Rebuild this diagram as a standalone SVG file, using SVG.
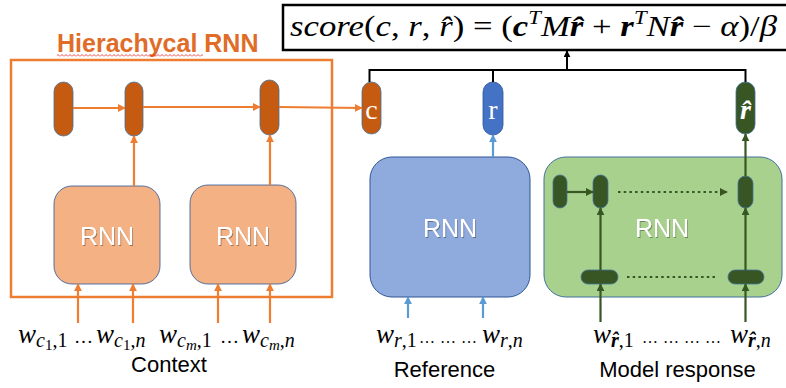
<svg xmlns="http://www.w3.org/2000/svg" width="786" height="388" viewBox="0 0 786 388">
<defs>
<style>
.frame{fill:none;stroke:#ED7D31;stroke-width:2.5}
.pill-o{fill:#C55A11;stroke:#41719C;stroke-width:0.8}
.pill-b{fill:#4472C4;stroke:#2F5597;stroke-width:0.8}
.pill-g{fill:#375623;stroke:#41719C;stroke-width:0.8}
.box-o{fill:#F4B183;stroke:#2F5597;stroke-width:0.8}
.box-b{fill:#8FAADC;stroke:#2F5597;stroke-width:1}
.box-g{fill:#A9D18E;stroke:#41719C;stroke-width:1}
.ao{stroke:#ED7D31;stroke-width:2.2;fill:none;marker-end:url(#ah-o)}
.ab{stroke:#5B9BD5;stroke-width:2.2;fill:none;marker-end:url(#ah-b)}
.ag{stroke:#375623;stroke-width:2.2;fill:none;marker-end:url(#ah-g)}
.agn{stroke:#375623;stroke-width:2.2;fill:none}
.dot{stroke-dasharray:2.5 3.2}
.ak{stroke:#000;stroke-width:2;fill:none}
.rnn{font-family:"Liberation Sans","Open Sans",sans-serif;font-size:25px;fill:#fff;text-anchor:middle;filter:url(#sh)}
.lbl{font-family:"Liberation Sans","Open Sans",sans-serif;font-size:22px;fill:#000;text-anchor:middle}
.m{font-family:"Liberation Serif","DejaVu Serif",serif;font-style:italic;font-size:27px;fill:#000}
.s{font-size:20px}
.ss{font-size:15px}
.up{font-style:normal}
.bi{font-weight:bold}
.el{font-family:"Liberation Serif","DejaVu Serif",serif;font-size:19px;fill:#000}
.el2{font-family:"Liberation Serif","DejaVu Serif",serif;font-size:16px;fill:#000}
.pl{font-family:"Liberation Serif","DejaVu Serif",serif;font-size:28px;fill:#fff;text-anchor:middle}
</style>
<marker id="ah-o" viewBox="0 0 10 10" refX="9" refY="5" markerWidth="8" markerHeight="8" markerUnits="userSpaceOnUse" orient="auto"><path d="M0,0 L10,5 L0,10 z" fill="#ED7D31"/></marker>
<marker id="ah-b" viewBox="0 0 10 10" refX="9" refY="5" markerWidth="8" markerHeight="8" markerUnits="userSpaceOnUse" orient="auto"><path d="M0,0 L10,5 L0,10 z" fill="#5B9BD5"/></marker>
<marker id="ah-g" viewBox="0 0 10 10" refX="9" refY="5" markerWidth="8" markerHeight="8" markerUnits="userSpaceOnUse" orient="auto"><path d="M0,0 L10,5 L0,10 z" fill="#375623"/></marker>
<marker id="ah-k" viewBox="0 0 10 10" refX="9" refY="5" markerWidth="7" markerHeight="7" markerUnits="userSpaceOnUse" orient="auto"><path d="M0,0 L10,5 L0,10 z" fill="#000"/></marker>
<filter id="sh" x="-20%" y="-20%" width="140%" height="140%"><feDropShadow dx="1" dy="1" stdDeviation="0.7" flood-color="#000" flood-opacity="0.35"/></filter>
<pattern id="wavy" width="4" height="3" patternUnits="userSpaceOnUse"><path d="M0,2.5 L2,0.5 L4,2.5" stroke="#E02020" fill="none" stroke-width="0.8"/></pattern>
</defs>
<rect width="786" height="388" fill="#fff"/>

<g id="hierarchical-frame">
<rect class="frame" x="11" y="60" width="321" height="237"/>
<text x="57" y="52" font-family="Liberation Sans, Arial, sans-serif" font-weight="bold" font-size="25" fill="#E06C28">Hierachycal RNN</text>
<rect x="57" y="54" width="146" height="3" fill="url(#wavy)"/>
</g>

<g id="formula">
<rect x="283" y="5" width="506" height="45" fill="#fff" stroke="#000" stroke-width="2.5"/>
<text x="290" y="36" font-family="Liberation Serif, DejaVu Serif, serif" font-size="29" textLength="487" lengthAdjust="spacingAndGlyphs"><tspan font-style="italic">score</tspan>(<tspan font-style="italic">c</tspan>, <tspan font-style="italic">r</tspan>, <tspan font-style="italic">r̂</tspan>) = (<tspan font-style="italic" font-weight="bold">c</tspan><tspan font-style="italic" font-size="19" dy="-12">T</tspan><tspan font-style="italic" dy="12">M</tspan><tspan font-style="italic" font-weight="bold">r̂</tspan> + <tspan font-style="italic" font-weight="bold">r</tspan><tspan font-style="italic" font-size="19" dy="-12">T</tspan><tspan font-style="italic" dy="12">N</tspan><tspan font-style="italic" font-weight="bold">r̂</tspan> − <tspan font-style="italic">α</tspan>)/<tspan font-style="italic">β</tspan></text>
</g>

<g id="ctx-pill-1"><rect class="pill-o" x="54" y="82" width="19" height="54" rx="9.5"/></g>
<g id="ctx-pill-2"><rect class="pill-o" x="125" y="82" width="18" height="54" rx="9"/></g>
<g id="ctx-pill-3"><rect class="pill-o" x="260" y="80" width="19" height="55" rx="9.5"/></g>
<g id="c-pill"><rect class="pill-o" x="362" y="82" width="19" height="52" rx="9.5"/><text class="pl" x="371.5" y="119">c</text></g>
<g id="r-pill"><rect class="pill-b" x="483" y="82" width="20" height="53" rx="10"/><text class="pl" x="493" y="119">r</text></g>
<g id="rhat-pill"><rect class="pill-g" x="736" y="82" width="19" height="52" rx="9.5"/><text class="pl" x="745.5" y="119" font-style="italic" font-weight="bold">r̂</text></g>

<g id="ctx-rnn-1"><rect class="box-o" x="54" y="186" width="106" height="98" rx="18"/><text class="rnn" x="107" y="245">RNN</text></g>
<g id="ctx-rnn-2"><rect class="box-o" x="190" y="185" width="106" height="99" rx="18"/><text class="rnn" x="243" y="245">RNN</text></g>
<g id="ref-rnn"><rect class="box-b" x="370" y="157" width="160" height="140" rx="22"/><text class="rnn" x="450" y="237">RNN</text></g>
<g id="model-rnn">
<rect class="box-g" x="544" y="157" width="238" height="140" rx="22"/>
<text class="rnn" x="662" y="237">RNN</text>
<rect class="pill-g" x="553" y="175" width="14" height="33" rx="7"/>
<rect class="pill-g" x="593" y="175" width="15" height="33" rx="7.5"/>
<rect class="pill-g" x="738" y="176" width="15" height="32" rx="7.5"/>
<rect class="pill-g" x="581" y="270" width="37" height="14" rx="7"/>
<rect class="pill-g" x="728" y="270" width="36" height="14" rx="7"/>
</g>

<g id="connectors">
<line class="ao" x1="73" y1="108" x2="125" y2="108"/>
<line class="ao" x1="143" y1="107" x2="260" y2="107"/>
<line class="ao" x1="279" y1="107" x2="362" y2="108"/>
<line class="ao" x1="134" y1="186" x2="134" y2="136"/>
<line class="ao" x1="270" y1="185" x2="270" y2="135"/>
<line class="ao" x1="78" y1="323" x2="78" y2="284"/>
<line class="ao" x1="133" y1="323" x2="133" y2="284"/>
<line class="ao" x1="218" y1="323" x2="218" y2="284"/>
<line class="ao" x1="270" y1="323" x2="270" y2="284"/>
<path class="ak" d="M369.5,82 V70 H745.5 V82 M493,70 V82"/>
<line class="ak" x1="567" y1="70" x2="567" y2="51" marker-end="url(#ah-k)"/>
<line class="ab" x1="493" y1="157" x2="493" y2="135"/>
<line class="ab" x1="408" y1="318" x2="408" y2="297"/>
<line class="ab" x1="483" y1="318" x2="483" y2="297"/>
<line class="ag" x1="745.5" y1="176" x2="745.5" y2="134"/>
<line class="ag" x1="567" y1="192" x2="593" y2="192"/>
<line class="ag dot" x1="618" y1="192" x2="727" y2="192"/>
<line class="agn dot" x1="627" y1="277" x2="718" y2="277"/>
<line class="ag" x1="600.5" y1="270" x2="600.5" y2="208"/>
<line class="ag" x1="745.5" y1="270" x2="745.5" y2="208"/>
<line class="ag" x1="600.5" y1="322" x2="600.5" y2="284"/>
<line class="ag" x1="745.5" y1="322" x2="745.5" y2="284"/>
</g>

<g id="labels">
<text class="m" x="18" y="343">w<tspan class="s" dy="4">c</tspan><tspan class="ss up" dy="3">1</tspan><tspan class="s up" dy="-3">,1</tspan></text>
<text class="el" x="74" y="343">…</text>
<text class="m" x="96" y="343">w<tspan class="s" dy="4">c</tspan><tspan class="ss up" dy="3">1</tspan><tspan class="s up" dy="-3">,</tspan><tspan class="s">n</tspan></text>
<text class="m" x="159" y="343">w<tspan class="s" dy="4">c</tspan><tspan class="ss" dy="3">m</tspan><tspan class="s up" dy="-3">,1</tspan></text>
<text class="el" x="220" y="343">…</text>
<text class="m" x="242" y="343">w<tspan class="s" dy="4">c</tspan><tspan class="ss" dy="3">m</tspan><tspan class="s up" dy="-3">,</tspan><tspan class="s">n</tspan></text>
<text class="lbl" x="169" y="372">Context</text>

<text class="m" x="376" y="343">w<tspan class="s" dy="4">r</tspan><tspan class="s up">,1</tspan></text>
<text class="el2" x="419" y="343">…</text>
<text class="el2" x="440" y="343">…</text>
<text class="el2" x="461" y="343">…</text>
<text class="m" x="482" y="343">w<tspan class="s" dy="4">r</tspan><tspan class="s up">,</tspan><tspan class="s">n</tspan></text>
<text class="lbl" x="444.5" y="377">Reference</text>

<text class="m" x="593" y="343">w<tspan class="s bi" dy="4">r̂</tspan><tspan class="s up">,1</tspan></text>
<text class="el2" x="642" y="343">…</text>
<text class="el2" x="663" y="343">…</text>
<text class="el2" x="684" y="343">…</text>
<text class="el2" x="705" y="343">…</text>
<text class="m" x="730" y="343">w<tspan class="s bi" dy="4">r̂</tspan><tspan class="s up">,</tspan><tspan class="s">n</tspan></text>
<text class="lbl" x="677.5" y="377">Model response</text>
</g>
</svg>
